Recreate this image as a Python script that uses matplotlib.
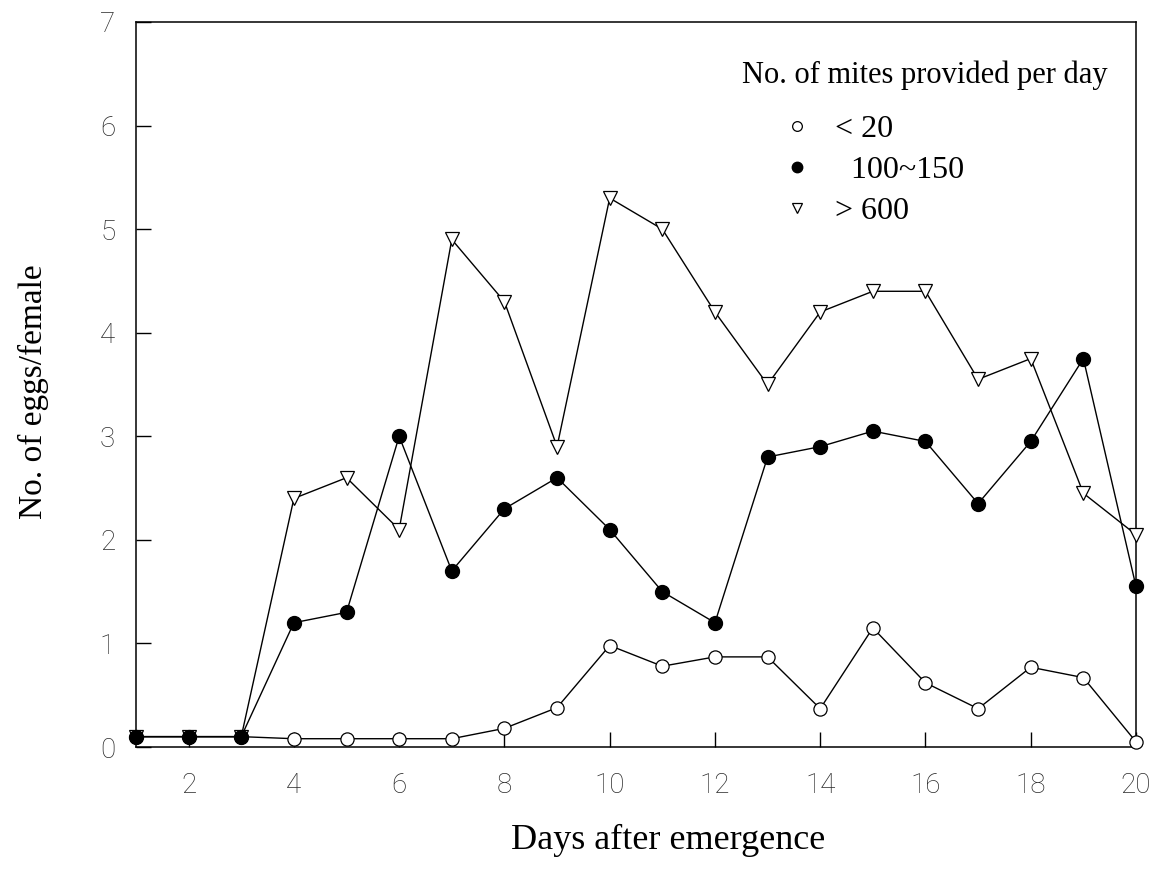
import matplotlib
matplotlib.use('Agg')
import matplotlib.pyplot as plt
from matplotlib.lines import Line2D

# Dane
days = list(range(1, 21))
low_mites = [0.1, 0.1, 0.1, 0.08, 0.08, 0.08, 0.08, 0.18, 0.38, 0.98,
             0.78, 0.87, 0.87, 0.37, 1.15, 0.62, 0.37, 0.77, 0.67, 0.05]
mid_mites = [0.1, 0.1, 0.1, 1.2, 1.3, 3.0, 1.7, 2.3, 2.6, 2.1,
             1.5, 1.2, 2.8, 2.9, 3.05, 2.95, 2.35, 2.95, 3.75, 1.55]
high_mites = [0.1, 0.1, 0.1, 2.4, 2.6, 2.1, 4.9, 4.3, 2.9, 5.3,
              5.0, 4.2, 3.5, 4.2, 4.4, 4.4, 3.55, 3.75, 2.45, 2.05]

legend_title = 'No. of mites provided per day'
legend_labels = ['< 20', '  100~150', '> 600']
x_ticks = list(range(2, 21, 2))
y_ticks = list(range(0, 8))

serif = 'Liberation Serif'

fig = plt.figure(figsize=(11.67, 8.74), dpi=100)
ax = fig.add_axes([136/1167, 1 - 747/874, 1000/1167, 725/874])

ax.plot(days, low_mites, color='black', linewidth=1.0, marker='o', markersize=9.5,
        markerfacecolor='white', markeredgecolor='black', markeredgewidth=0.9,
        zorder=3, clip_on=False)
ax.plot(days, high_mites, color='black', linewidth=1.0, marker='v', markersize=10,
        markerfacecolor='white', markeredgecolor='black', markeredgewidth=0.9,
        zorder=4, clip_on=False)
ax.plot(days, mid_mites, color='black', linewidth=1.0, marker='o', markersize=10,
        markerfacecolor='black', markeredgecolor='black',
        zorder=5, clip_on=False)

ax.set_xlim(1, 20)
ax.set_ylim(0, 7)
ax.set_xticks(x_ticks)
ax.set_yticks(y_ticks)
ax.tick_params(axis='both', direction='in', length=11, width=1.0, colors='black',
               labelcolor='#2a2a2a', labelsize=20)
ax.tick_params(axis='x', pad=18)
ax.tick_params(axis='y', pad=15)
for lab in ax.get_xticklabels() + ax.get_yticklabels():
    lab.set_family('Roboto')
    lab.set_fontweight('light')
for sp in ax.spines.values():
    sp.set_linewidth(1.1)

fig.text(33/1167, 1 - 392/874, 'No. of eggs/female', rotation=90,
         ha='center', va='center', fontsize=24, family=serif)
fig.text(668/1167, 1 - 840/874, 'Days after emergence',
         ha='center', va='center', fontsize=26, family=serif)

# legenda
ax.text((742 - 136)/1000, (747 - 75)/725, legend_title, transform=ax.transAxes,
        ha='left', va='center', fontsize=22, family=serif)
handles = [
    Line2D([], [], linestyle='none', marker='o', markersize=7,
           markerfacecolor='white', markeredgecolor='black', markeredgewidth=0.9),
    Line2D([], [], linestyle='none', marker='o', markersize=7.5,
           markerfacecolor='black', markeredgecolor='black'),
    Line2D([], [], linestyle='none', marker='v', markersize=7,
           markerfacecolor='white', markeredgecolor='black', markeredgewidth=0.9),
]
ax.legend(handles, legend_labels, loc='upper left',
          bbox_to_anchor=((781 - 136)/1000, (747 - 115)/725),
          frameon=False, prop={'family': serif, 'size': 23},
          handlelength=1.0, handletextpad=0.7, labelspacing=0.36,
          borderpad=0, borderaxespad=0)

plt.savefig('out.png', dpi=100)
